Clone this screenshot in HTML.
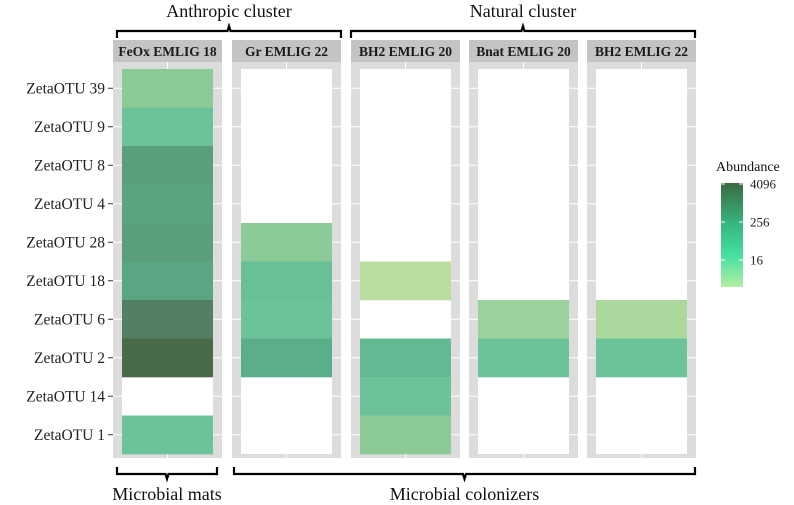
<!DOCTYPE html>
<html><head><meta charset="utf-8">
<style>
html,body{margin:0;padding:0;background:#fff;}
svg{display:block;font-family:"Liberation Serif",serif;}
</style></head>
<body>
<svg id="chart" width="794" height="505" viewBox="0 0 794 505"></svg>
<script>
const otus = ["ZetaOTU 39","ZetaOTU 9","ZetaOTU 8","ZetaOTU 4","ZetaOTU 28","ZetaOTU 18","ZetaOTU 6","ZetaOTU 2","ZetaOTU 14","ZetaOTU 1"];
const panels = ["FeOx EMLIG 18","Gr EMLIG 22","BH2 EMLIG 20","Bnat EMLIG 20","BH2 EMLIG 22"];
// abundance per panel, ordered as otus; null = absent
const feoxValues = [16,64,1024,600,1024,500,2048,4096,null,64];
const grValues = [null,null,null,null,16,80,64,256,null,null];
const bh2e20Values = [null,null,null,null,null,2,null,128,64,16];
const bnatValues = [null,null,null,null,null,null,8,64,null,null];
const bh2e22Values = [null,null,null,null,null,null,4,64,null,null];
const allValues = [feoxValues,grValues,bh2e20Values,bnatValues,bh2e22Values];
const legendTicks = [16,256,4096];

const svg = document.getElementById('chart');
const NS = 'http://www.w3.org/2000/svg';
function mk(tag, attrs, parent){const e=document.createElementNS(NS,tag);for(const k in attrs)e.setAttribute(k,attrs[k]);(parent||svg).appendChild(e);return e;}

const panelX0 = [113,232,351,469,587], panelW = 109;
const yTop = 69, rowH = 38.5;
function yRow(i){return yTop + i*rowH;}
const stops = [[1,[186,222,160]],[4,[140,203,152]],[6,[108,195,154]],[8,[90,174,138]],[10,[90,158,122]],[11,[84,127,98]],[12,[74,107,74]]];
function colour(v){
  const l=Math.log2(v);
  if(l<=stops[0][0])return 'rgb('+stops[0][1]+')';
  for(let i=1;i<stops.length;i++){
    if(l<=stops[i][0]){const t=(l-stops[i-1][0])/(stops[i][0]-stops[i-1][0]);
      const c=stops[i-1][1].map((a,j)=>Math.round(a+(stops[i][1][j]-a)*t));return 'rgb('+c+')';}
  }
  return 'rgb('+stops[stops.length-1][1]+')';
}

panels.forEach((p,pi)=>{
  const x0=panelX0[pi];
  const g=mk('g',{});
  
  
  mk('rect',{x:x0,y:62,width:panelW,height:396,fill:'#dcdcdc'},g);
  mk('line',{x1:x0+panelW/2,x2:x0+panelW/2,y1:62,y2:458,stroke:'#fff','stroke-width':1},g);
  otus.forEach((o,i)=>mk('line',{x1:x0,x2:x0+panelW,y1:yRow(i)+rowH/2,y2:yRow(i)+rowH/2,stroke:'#fff','stroke-width':1},g));
  mk('rect',{x:x0+9,y:yTop,width:91,height:rowH*10,fill:'#fff'},g);
  allValues[pi].forEach((v,i)=>{
    if(v==null)return;
    const r=mk('rect',{x:x0+9,y:yRow(i),width:91,height:rowH+0.3,fill:colour(v)},g);
    
    
  });
  const s=mk('rect',{x:x0,y:40,width:panelW,height:22,fill:'#c4c4c4'},g);
  
  
  const t=mk('text',{x:x0+panelW/2,y:56,'text-anchor':'middle','font-size':13.5,'font-weight':'bold',fill:'#1a1a1a'},g);
  t.textContent=p;
  
  
});

otus.forEach((o,i)=>{
  const y=yRow(i)+rowH/2;
  mk('line',{x1:108,x2:113,y1:y,y2:y,stroke:'#333'});
  const t=mk('text',{x:105,y:y+5,'text-anchor':'end','font-size':15.5,fill:'#222'});
  t.textContent=o;
  
  
});

function bracket(x1,x2,y,dir,label,ty,name){
  const xm=(x1+x2)/2, d=dir*7;
  const p=mk('path',{d:`M${x1},${y+d} L${x1},${y} L${xm-1.5},${y} L${xm},${y-d*0.7} L${xm+1.5},${y} L${x2},${y} L${x2},${y+d}`,fill:'none',stroke:'#000','stroke-width':2.2});
  
  
  const t=mk('text',{x:xm,y:ty,'text-anchor':'middle','font-size':18,fill:'#111'});
  t.textContent=label;
  
  
}
bracket(117,341,31,1,'Anthropic cluster',17,'anthropic-cluster');
bracket(351,695,31,1,'Natural cluster',17,'natural-cluster');
bracket(117,217,474,-1,'Microbial mats',500,'microbial-mats');
bracket(234,695,474,-1,'Microbial colonizers',500,'microbial-colonizers');

const lg=mk('g',{});


const lt=mk('text',{x:716,y:171,'font-size':14,fill:'#111'},lg);
lt.textContent='Abundance';
const defs=mk('defs',{});
const grad=mk('linearGradient',{id:'gr',x1:0,y1:1,x2:0,y2:0},defs);
[[0,'#b2efa4'],[0.3,'#48e0a0'],[0.6,'#35b87e'],[1,'#3b6a42']].forEach(s=>mk('stop',{offset:s[0],'stop-color':s[1]},grad));
mk('rect',{x:721,y:183,width:22,height:104,fill:'url(#gr)'},lg);
const legTop=184, pxPerDouble=9.5;
legendTicks.forEach(v=>{
  const y=legTop+(12-Math.log2(v))*pxPerDouble;
  mk('line',{x1:721,x2:725,y1:y,y2:y,stroke:'#fff'},lg);
  mk('line',{x1:739,x2:743,y1:y,y2:y,stroke:'#fff'},lg);
  const t=mk('text',{x:750,y:y+4.5,'font-size':13,fill:'#222'},lg);
  t.textContent=v;
});
</script>
</body></html>
